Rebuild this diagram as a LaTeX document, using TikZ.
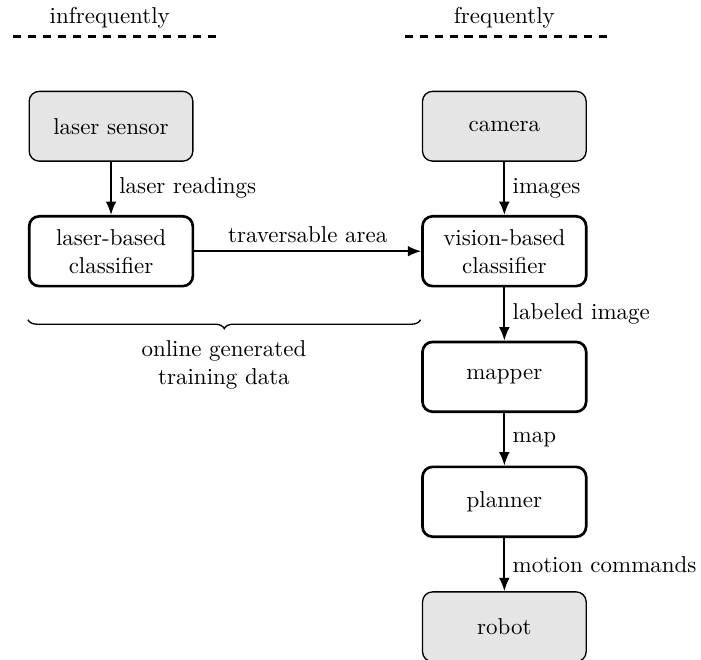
\documentclass[tikz,border=0pt]{standalone}
\usepackage{tikz}
\usetikzlibrary{arrows.meta, decorations.pathreplacing}

\begin{document}
\begin{tikzpicture}[thick, every node/.style={font=\fontsize{10.3}{12.6}\selectfont},
    block/.style={draw, very thick, rounded corners=4.5pt, minimum width=2.58cm, minimum height=1.1cm, align=center},
    device/.style={block, semithick, fill=black!10},
    flow/.style={-{Latex[length=6pt, width=4.8pt]}, thick},
    rate/.style={dash pattern=on 3.6pt off 3.1pt, line width=1.3pt}]
    \useasboundingbox (0,0) rectangle (11.05,-10.40);

    \node at (1.73,-0.28)  (infreq) {infrequently};
    \node at (7.95,-0.28)  (freq) {frequently};
    \draw [rate] (0.21,-0.58) -- (3.42,-0.58);
    \draw [rate] (6.38,-0.58) -- (9.60,-0.58);

    \node[device] at (1.75,-1.99)  (laser) {laser sensor};
    \node[block]  at (1.75,-3.96)  (lclass) {laser-based\\classifier};
    \node[device] at (7.95,-1.99)  (camera) {camera};
    \node[block]  at (7.95,-3.96)  (vclass) {vision-based\\classifier};
    \node[block]  at (7.95,-5.94)  (mapper) {mapper};
    \node[block]  at (7.95,-7.91)  (planner) {planner};
    \node[device] at (7.95,-9.88)  (robot) {robot};

    \draw [flow] (laser) -- node[right] {laser readings} (lclass);
    \draw [flow] (camera) -- node[right] {images} (vclass);
    \draw [flow] (lclass) -- node[above] {traversable area} (vclass);
    \draw [flow] (vclass) -- node[right] {labeled image} (mapper);
    \draw [flow] (mapper) -- node[right] {map} (planner);
    \draw [flow] (planner) -- node[right] {motion commands} (robot);

    \draw [semithick, decorate, decoration={brace, mirror, amplitude=4pt}] (0.44,-5.04) -- (6.63,-5.04);
    \node[align=center] at (3.53,-5.75) (train) {online generated\\training data};
\end{tikzpicture}
\end{document}
